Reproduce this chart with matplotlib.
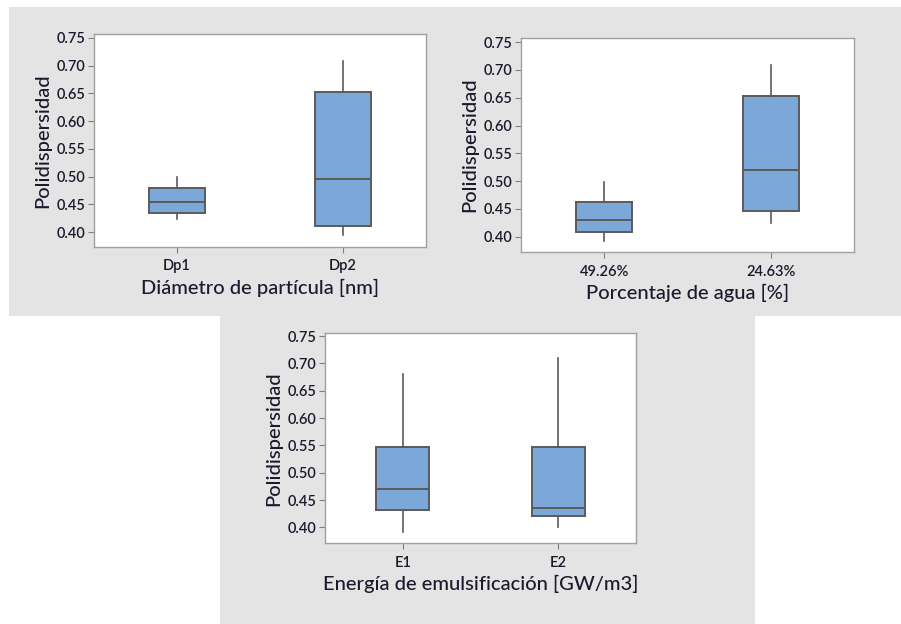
import matplotlib
matplotlib.use('Agg')
import matplotlib.pyplot as plt
from matplotlib.patches import Rectangle

plt.rcParams['font.family'] = ['Lato', 'DejaVu Sans']

# --- data (whisker low, Q1, median, Q3, whisker high) ---
dp_labels = ['Dp1', 'Dp2']
dp_low = [0.424, 0.395]
dp_q1 = [0.435, 0.411]
dp_med = [0.454, 0.496]
dp_q3 = [0.480, 0.653]
dp_high = [0.500, 0.709]

agua_labels = ['49.26%', '24.63%']
agua_low = [0.392, 0.424]
agua_q1 = [0.409, 0.446]
agua_med = [0.430, 0.520]
agua_q3 = [0.462, 0.653]
agua_high = [0.499, 0.709]

en_labels = ['E1', 'E2']
en_low = [0.391, 0.401]
en_q1 = [0.432, 0.421]
en_med = [0.470, 0.435]
en_q3 = [0.547, 0.547]
en_high = [0.680, 0.709]

yticks = [0.40, 0.45, 0.50, 0.55, 0.60, 0.65, 0.70, 0.75]

grey_bg = '#e4e4e4'
box_fill = '#7ba7d9'
edge = '#5a5a5a'
txt = '#1a1a2c'

fig = plt.figure(figsize=(9.01, 6.24), dpi=100)
fig.patch.set_facecolor('white')

# grey panel backgrounds (figure coords, y measured from bottom)
W, H = 901.0, 624.0
def bg(x0, y0, x1, y1):
    fig.patches.append(Rectangle((x0 / W, 1 - y1 / H), (x1 - x0) / W, (y1 - y0) / H,
                                 transform=fig.transFigure, facecolor=grey_bg,
                                 edgecolor='none', zorder=-10))
bg(9, 7, 901, 316)
bg(220, 312, 755, 624)


def boxpanel(rect, labels, low, q1, med, q3, high, xlabel, ylim):
    ax = fig.add_axes(rect)
    stats = []
    for i in range(len(labels)):
        stats.append(dict(label=labels[i], whislo=low[i], q1=q1[i], med=med[i],
                          q3=q3[i], whishi=high[i], fliers=[]))
    ax.bxp(stats, positions=[1, 2], widths=0.34, patch_artist=True, showcaps=False,
           boxprops=dict(facecolor=box_fill, edgecolor=edge, linewidth=1.4),
           medianprops=dict(color=edge, linewidth=1.4),
           whiskerprops=dict(color=edge, linewidth=1.2))
    ax.set_xlim(0.5, 2.5)
    ax.set_ylim(*ylim)
    ax.set_yticks(yticks)
    ax.set_yticklabels(['%.2f' % v for v in yticks])
    for sp in ax.spines.values():
        sp.set_color('#a0a0a0')
        sp.set_linewidth(1.0)
    ax.tick_params(axis='both', colors='#808080', labelcolor=txt, length=4,
                   width=0.8, labelsize=10.5)
    ax.tick_params(axis='y', pad=2)
    ax.tick_params(axis='x', pad=5)
    for lab in ax.get_xticklabels() + ax.get_yticklabels():
        lab.set_fontweight('semibold')
    ax.set_ylabel('Polidispersidad', fontsize=14.5, color=txt, labelpad=4,
                  fontweight='medium')
    ax.set_xlabel(xlabel, fontsize=14.5, color=txt, labelpad=4, fontweight='medium')
    return ax


boxpanel([94 / W, 1 - 247 / H, 332 / W, 213 / H], dp_labels, dp_low, dp_q1, dp_med,
         dp_q3, dp_high, 'Diámetro de partícula [nm]', (0.373, 0.757))
boxpanel([520.7 / W, 1 - 252.3 / H, 333.6 / W, 214.6 / H], agua_labels, agua_low,
         agua_q1, agua_med, agua_q3, agua_high, 'Porcentaje de agua [%]', (0.372, 0.758))
boxpanel([325 / W, 1 - 543.3 / H, 311 / W, 210 / H], en_labels, en_low, en_q1, en_med,
         en_q3, en_high, 'Energía de emulsificación [GW/m3]', (0.371, 0.755))

fig.savefig('out.png', dpi=100)
